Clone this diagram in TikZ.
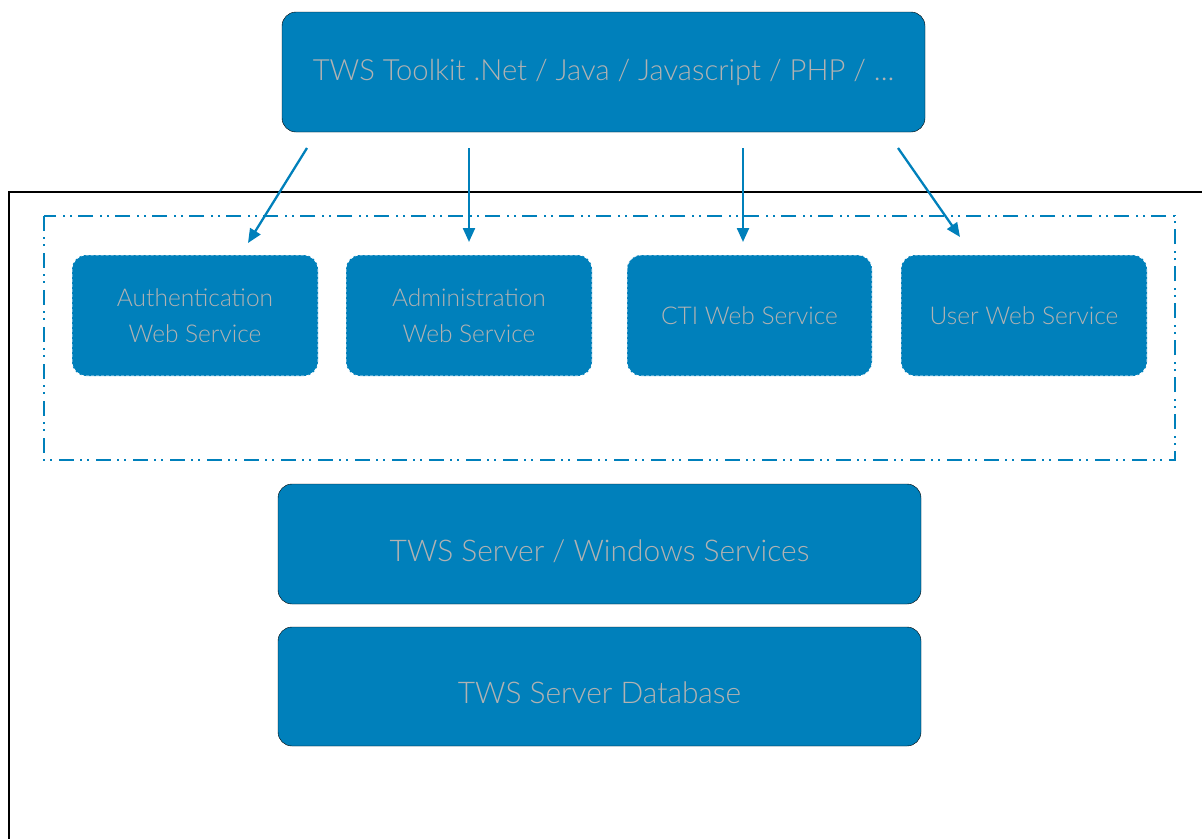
\documentclass[tikz,border=0pt]{standalone}
\usepackage{fontspec}
\setmainfont{Lato Light}
\usetikzlibrary{arrows.meta}
\definecolor{twsblue}{HTML}{0080BB}
\definecolor{twstext}{HTML}{B2B2B2}
\tikzset{
  x=1pt, y=-1pt,
  bigbox/.style={fill=twsblue, rounded corners=14pt},
  svcbox/.style={fill=twsblue, draw=white, densely dashed, line width=0.8pt, rounded corners=14pt},
  toptext/.style={text=twstext, font=\fontsize{29.2}{34}\selectfont},
  bigtext/.style={text=twstext, font=\fontsize{29.9}{34}\selectfont},
  svctext/.style={text=twstext, align=center, font=\fontsize{24.5}{36}\selectfont},
  arr/.style={draw=twsblue, line width=2.3pt, -{Triangle[length=14pt,width=12pt]}},
  ddot/.style={draw=twsblue, line width=1.5pt, dash pattern=on 15pt off 6pt on 2pt off 5pt on 2pt off 7pt}
}
\begin{document}
\begin{tikzpicture}
\useasboundingbox (0,0) rectangle (1202,838);
\clip (0,0) rectangle (1202,838);
\draw[black, line width=2pt] (9,1000) -- (9,192) -- (1300,192);
\draw[ddot] (44,216) rectangle (1175,460);
\draw[bigbox] (282,12) rectangle (925,132);
\node[toptext] (top) at (603.5,72) {TWS Toolkit .Net / Java / Javascript / PHP / ...};
\draw[svcbox] (72,255) rectangle (318,376);
\node[svctext] (auth) at (195,315.5) {Authentication\\Web Service};
\draw[svcbox] (346,255) rectangle (592,376);
\node[svctext] (admin) at (469,315.5) {Administration\\Web Service};
\draw[svcbox] (627,255) rectangle (872,376);
\node[svctext] (cti) at (749.5,315.5) {CTI Web Service};
\draw[svcbox] (901,255) rectangle (1147,376);
\node[svctext] (user) at (1024,315.5) {User Web Service};
\draw[bigbox] (278,484) rectangle (921,604);
\node[bigtext] (server) at (599.5,551) {TWS Server / Windows Services};
\draw[bigbox] (278,627) rectangle (921,746);
\node[bigtext] (db) at (599.5,693) {TWS Server Database};
\coordinate (s1) at (307,148); \coordinate (e1) at (248,243);
\coordinate (s2) at (469,148); \coordinate (e2) at (469,242);
\coordinate (s3) at (743,148); \coordinate (e3) at (743,242);
\coordinate (s4) at (898,148); \coordinate (e4) at (960,237);
\draw[arr] (s1) -- (e1);
\draw[arr] (s2) -- (e2);
\draw[arr] (s3) -- (e3);
\draw[arr] (s4) -- (e4);
\end{tikzpicture}
\end{document}
